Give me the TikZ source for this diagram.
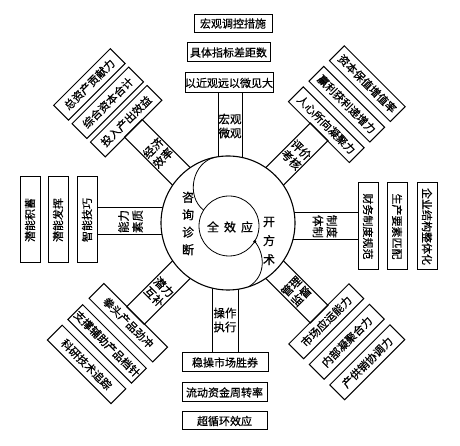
\documentclass[tikz,border=0pt]{standalone}
\usepackage{fontspec}
\newfontfamily\cjk[FakeBold=0.6]{Noto Sans CJK SC}
\usetikzlibrary{calc}
\begin{document}
\begin{tikzpicture}[x=1pt,y=1pt,line width=1pt,
  every node/.style={font=\cjk\fontsize{11}{13}\selectfont,inner sep=0pt,outer sep=0pt},
  box/.style={draw,rectangle,minimum height=20,align=center},
  spoke/.style={draw,rectangle,minimum width=25,align=center,font=\cjk\fontsize{11.5}{14}\selectfont},
  ctext/.style={align=center,font=\cjk\fontsize{12}{17.5}\selectfont}]
\useasboundingbox (0,0) rectangle (460,446);
\coordinate (O) at (228,223);

% ---------- top ----------
\node[spoke,minimum width=24,minimum height=66] (sT) at (230,320) {宏观\\微观};
\node[box,minimum width=88,minimum height=20] (t3) at (229,363) {以近观远以微见大};
\node[box,minimum width=83,minimum height=19] (t2) at (228.5,393.5) {具体指标差距数};
\node[box,minimum width=78,minimum height=18] (t1) at (233,422.5) {宏观调控措施};

% ---------- bottom ----------
\node[spoke,minimum width=26,minimum height=66] (sB) at (225,126) {操作\\执行};
\node[box,minimum width=86,minimum height=19] (b1) at (225,83.5) {稳操市场胜券};
\node[box,minimum width=85,minimum height=19] (b2) at (224.5,53.5) {流动资金周转率};
\node[box,minimum width=85,minimum height=18] (b3) at (224.5,25) {超循环效应};

% ---------- left ----------
\node[spoke,rotate=90,minimum width=27,minimum height=67] (sL) at (130.5,224.5) {能力\\素质};
\node[box,rotate=90,minimum width=86,minimum height=20] (l3) at (87,226) {智能技巧};
\node[box,rotate=90,minimum width=86,minimum height=20] (l2) at (58,226) {潜能发挥};
\node[box,rotate=90,minimum width=86,minimum height=20] (l1) at (30,226) {潜能积蓄};

% ---------- right ----------
\node[spoke,rotate=-90,minimum width=27,minimum height=66] (sR) at (325,219.5) {制度\\体制};
\node[box,rotate=-90,minimum width=87,minimum height=20] (r1) at (368,219.5) {财务制度规范};
\node[box,rotate=-90,minimum width=87,minimum height=20] (r2) at (397,219.5) {生产要素匹配};
\node[box,rotate=-90,minimum width=87,minimum height=20] (r3) at (427,219.5) {企业结构整体化};

% ---------- upper left ----------
\node[spoke,rotate=45,minimum height=70] (sUL) at ($(O)+(135:99)$) {经济\\效率};
\node[box,rotate=45,minimum width=80,minimum height=21] (ul3) at ($(O)+(135:144)$) {投入产出效益};
\node[box,rotate=45,minimum width=80,minimum height=21] (ul2) at ($(O)+(135:170)$) {综合资本合计};
\node[box,rotate=45,minimum width=80,minimum height=21] (ul1) at ($(O)+(135:196)$) {总资产贡献力};

% ---------- upper right ----------
\node[spoke,rotate=-45,minimum height=65] (sUR) at ($(O)+(45:96.5)$) {评价\\考核};
\node[box,rotate=-45,minimum width=86,minimum height=21] (ur3) at ($(O)+(45:139)$) {人心所向凝聚力};
\node[box,rotate=-45,minimum width=86,minimum height=21] (ur2) at ($(O)+(45:168)$) {赢利获利递增力};
\node[box,rotate=-45,minimum width=86,minimum height=21] (ur1) at ($(O)+(45:197)$) {资本保值增值率};

% ---------- lower left ----------
\node[spoke,rotate=-45,minimum height=67] (sLL) at ($(O)+(225:97.5)$) {潜力\\互补};
\node[box,rotate=-45,minimum width=90,minimum height=21] (ll1) at ($(O)+(225:141)$) {拳头产品劲冲};
\node[box,rotate=-45,minimum width=90,minimum height=21] (ll2) at ($(O)+(225:171)$) {支撑辅助产品档针};
\node[box,rotate=-45,minimum width=90,minimum height=21] (ll3) at ($(O)+(225:200)$) {科研技术追踪};

% ---------- lower right ----------
\node[spoke,rotate=45,minimum height=65] (sLR) at ($(O)+(-45:96.5)$) {管理\\监督};
\node[box,rotate=45,minimum width=85,minimum height=21] (lr1) at ($(O)+(-45:139)$) {市场应运能力};
\node[box,rotate=45,minimum width=85,minimum height=21] (lr2) at ($(O)+(-45:168)$) {内部凝聚合力};
\node[box,rotate=45,minimum width=85,minimum height=21] (lr3) at ($(O)+(-45:197)$) {产供销协调力};

% ---------- central circle ----------
\node[circle,draw,fill=white,minimum size=134,line width=1.1pt] (C) at (O) {};
\node[circle,draw,minimum size=60,line width=0.8pt] (I) at (229,220) {};
\draw[line width=0.8pt] (C.101.6) .. controls +(-23,-5) and +(-18,14) .. (I.148);
\draw[line width=0.8pt] (I.-31) .. controls +(10,-12) and +(18,11) .. (C.-72);
\fill (I.-31) circle (1.6);

\node[ctext] (zx) at (188,222.5) {咨\\询\\诊\\断};
\node[ctext,font=\cjk\fontsize{12}{19}\selectfont] (kf) at (269,205) {开\\方\\术};
\node[font=\cjk\fontsize{12}{14}\selectfont] (qx) at (230,219) {全\hspace{5pt}效\hspace{5pt}应};
\end{tikzpicture}
\end{document}
